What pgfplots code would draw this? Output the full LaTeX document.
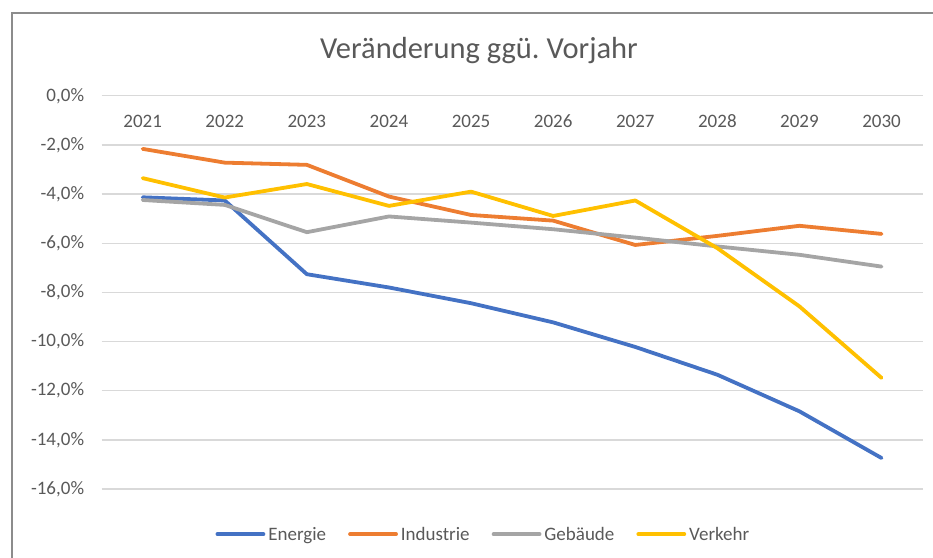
\documentclass[border=0pt]{standalone}
\usepackage{fontspec}
\setmainfont{Carlito}
\usepackage{pgfplots}
\pgfplotsset{compat=1.18}
\definecolor{cEn}{HTML}{4472C4}
\definecolor{cIn}{HTML}{ED7D31}
\definecolor{cGe}{HTML}{A5A5A5}
\definecolor{cVe}{HTML}{FFC000}
\definecolor{txt}{HTML}{595959}
\definecolor{gridc}{HTML}{D9D9D9}
\definecolor{framec}{HTML}{8C8C8C}
\begin{document}
\begin{tikzpicture}
\path[use as bounding box] (0,0) rectangle (933bp,558bp);
\draw[color=framec, line width=2bp] (12bp,0) -- (12bp,545.3bp) -- (933bp,545.3bp);
\node[text=txt, font=\fontsize{30.5bp}{34bp}\selectfont] at (479bp,507bp) {Veränderung ggü.\ Vorjahr};
\begin{axis}[
  at={(101.6bp,69bp)}, anchor=south west,
  scale only axis, width=821bp, height=393.2bp,
  xmin=-0.5, xmax=9.5, ymin=-16, ymax=0,
  xtick={0,...,9},
  xticklabels={2021,2022,2023,2024,2025,2026,2027,2028,2029,2030},
  xticklabel pos=upper,
  xticklabel style={anchor=base, yshift=-32bp},
  ytick={-16,-14,...,0},
  yticklabel style={anchor=east, xshift=-14bp},
  /pgf/number format/assume math mode=true,
  yticklabel={\pgfmathprintnumber[fixed,fixed zerofill,precision=1,use comma]{\tick}\%},
  ticklabel style={text=txt, font=\fontsize{19bp}{22bp}\selectfont},
  axis line style={draw=none},
  tick style={draw=none},
  ymajorgrids,
  grid style={color=gridc, line width=1.4bp},
  legend columns=4,
  legend style={at={(0.465,-0.115)}, anchor=center, draw=none, fill=none,
    font=\fontsize{19bp}{22bp}\selectfont, text=txt,
    /tikz/every even column/.append style={column sep=20bp},
    /tikz/every odd column/.append style={column sep=1bp}},
  legend image code/.code={\draw[#1, line cap=round] (0bp,0bp) -- (46bp,0bp);},
  every axis plot/.append style={line width=3.8bp, line join=round, line cap=round},
]
\addplot[color=cEn] coordinates {(0,-4.13) (1,-4.26) (2,-7.26) (3,-7.80) (4,-8.44) (5,-9.22) (6,-10.22) (7,-11.35) (8,-12.84) (9,-14.74)};
\addlegendentry{Energie}
\addplot[color=cIn] coordinates {(0,-2.16) (1,-2.72) (2,-2.81) (3,-4.10) (4,-4.85) (5,-5.08) (6,-6.07) (7,-5.70) (8,-5.29) (9,-5.62)};
\addlegendentry{Industrie}
\addplot[color=cGe] coordinates {(0,-4.24) (1,-4.44) (2,-5.55) (3,-4.91) (4,-5.16) (5,-5.43) (6,-5.77) (7,-6.13) (8,-6.47) (9,-6.95)};
\addlegendentry{Gebäude}
\addplot[color=cVe] coordinates {(0,-3.35) (1,-4.14) (2,-3.59) (3,-4.48) (4,-3.90) (5,-4.89) (6,-4.26) (7,-6.20) (8,-8.57) (9,-11.48)};
\addlegendentry{Verkehr}
\end{axis}
\end{tikzpicture}
\end{document}
